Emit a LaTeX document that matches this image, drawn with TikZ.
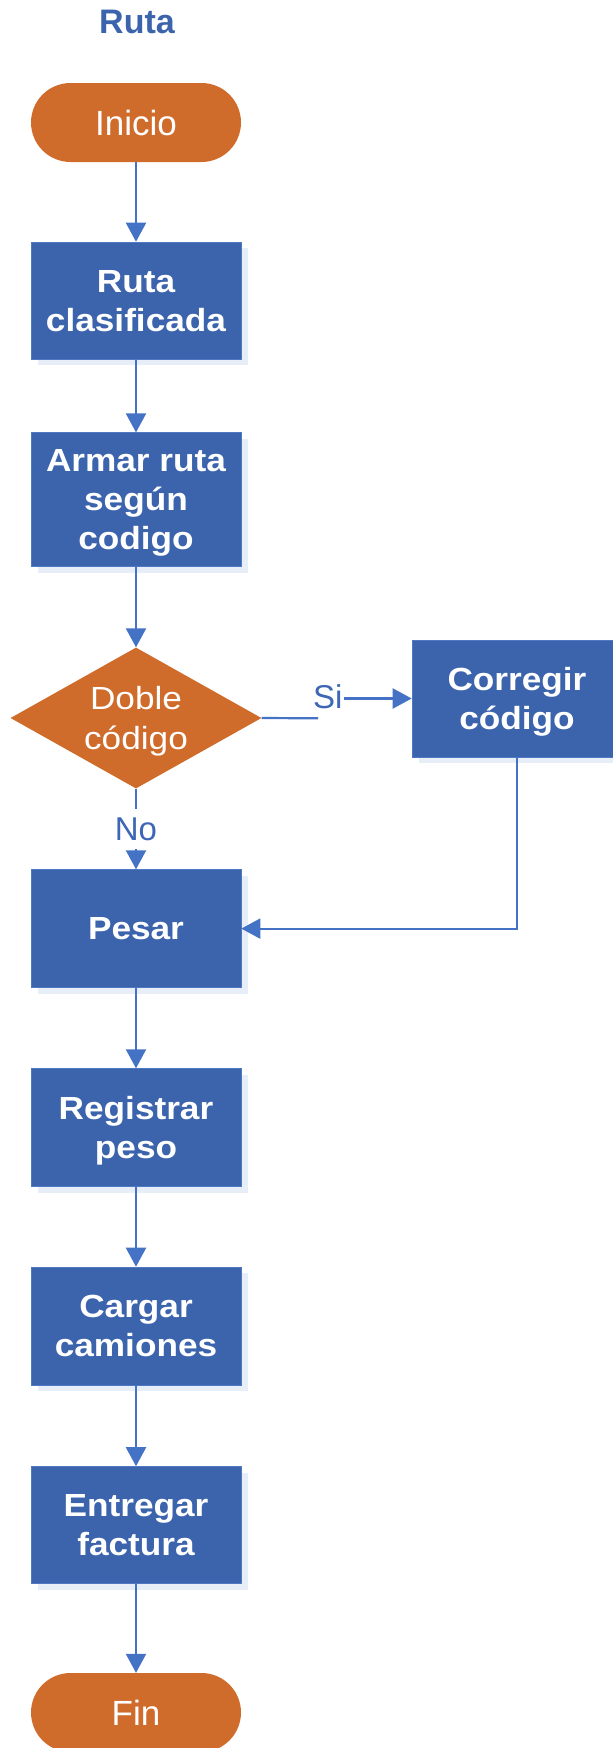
\documentclass[tikz,border=0pt]{standalone}
\usepackage{fontspec}
\setmainfont{Liberation Sans}
\newfontfamily\widefont[FakeStretch=1.1]{Liberation Sans}
\usetikzlibrary{arrows.meta,shapes.geometric,shadows}

\definecolor{boxc}{HTML}{3B64AD}
\definecolor{boxedge}{HTML}{5079C4}
\definecolor{orangec}{HTML}{D06C2B}
\definecolor{arrowc}{HTML}{4472C4}
\definecolor{labelc}{HTML}{3D67B6}
\definecolor{titlec}{HTML}{3B64AD}
\definecolor{shadowc}{HTML}{E8EEF8}

\tikzset{
  stepbox/.style={rectangle, fill=boxc, draw=boxedge, line width=0.6pt,
    minimum width=210pt, minimum height=117pt, inner sep=0pt,
    text=white, align=center, text depth=0pt,
    font=\widefont\bfseries\fontsize{32}{39}\selectfont,
    drop shadow={shadow xshift=7pt, shadow yshift=-6pt, fill=shadowc, draw=none, opacity=1}},
  terminal/.style={rectangle, rounded corners=39.5pt, fill=orangec,
    minimum width=210pt, minimum height=79pt, inner sep=0pt,
    text=white, text depth=0pt, font=\fontsize{35}{42}\selectfont},
  decision/.style={diamond, aspect=1.78, fill=orangec,
    minimum width=251pt, minimum height=141pt, inner sep=0pt,
    text=white, align=center, text depth=0pt,
    font=\widefont\fontsize{32}{40}\selectfont},
  lbl/.style={text=labelc, text depth=0pt, font=\fontsize{33}{40}\selectfont},
  arr/.style={draw=arrowc, line width=2.2pt, -{Triangle[length=19pt,width=20pt]}},
  plain/.style={draw=arrowc, line width=2.2pt}
}

\begin{document}
\begin{tikzpicture}[x=1pt,y=-1pt]
  \useasboundingbox (0,0) rectangle (613,1748);
  \clip (0,0) rectangle (613,1748);

  % title
  \node[anchor=base, inner sep=0pt, text=titlec,
        font=\bfseries\fontsize{34}{40}\selectfont] (title) at (137,33.3) {Ruta};

  % flow nodes
  \node[terminal] (start) at (136,122.5) {Inicio};
  \node[stepbox] (rc) at (136,300.5) {Ruta\\clasificada};
  \node[stepbox, minimum height=134pt] (armar) at (136,499.7) {Armar ruta\\según\\codigo};
  \node[decision] (dbl) at (136,718) {Doble\\código};
  \node[stepbox] (corr) at (517,698.5) {Corregir\\código};
  \node[stepbox, minimum height=118pt] (pesar) at (136,928.6) {Pesar};
  \node[stepbox, minimum height=118pt] (reg) at (136,1127.6) {Registrar\\peso};
  \node[stepbox, minimum height=118pt] (carg) at (136,1326) {Cargar\\camiones};
  \node[stepbox] (entr) at (136,1525) {Entregar\\factura};
  \node[terminal] (fin) at (136,1712.5) {Fin};

  % "Si" branch label and the end of its lead-in line
  \node[lbl, anchor=base west, inner xsep=1pt, inner ysep=0pt] (si) at (312,708.3) {Si};
  \coordinate (sib) at (318,718.3);

  % connectors
  \draw[arr] (start) -- (rc);
  \draw[arr] (rc) -- (armar);
  \draw[arr] (armar) -- (dbl);
  \draw[arr] (dbl.south) -- node[lbl, fill=white, inner xsep=2pt, inner ysep=8.5pt] (no) {No} (pesar.north);
  \draw[plain] (dbl.east) -- (sib);
  \draw[arr] (si.east |- corr.west) -- (corr.west);
  \draw[arr] (corr.south) |- (pesar.east);
  \draw[arr] (pesar) -- (reg);
  \draw[arr] (reg) -- (carg);
  \draw[arr] (carg) -- (entr);
  \draw[arr] (entr) -- (fin);
\end{tikzpicture}
\end{document}
